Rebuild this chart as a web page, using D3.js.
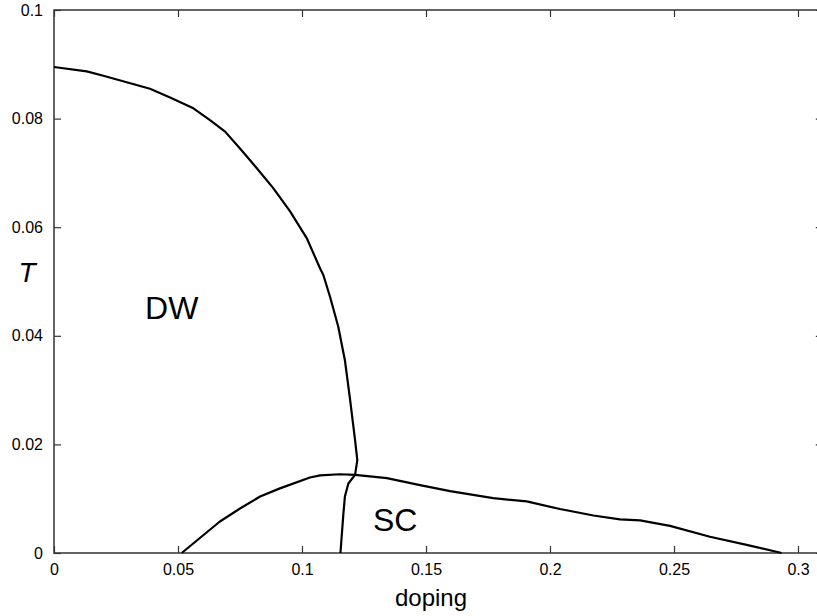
<!DOCTYPE html>
<html>
<head>
<meta charset="utf-8">
<script src="https://cdn.jsdelivr.net/npm/d3@7"></script>
<style>
  html, body { margin: 0; padding: 0; background: #fff; }
  svg { display: block; font-family: "Liberation Sans", Arial, sans-serif; }
</style>
</head>
<body>
<svg id="chart" width="817" height="616"></svg>
<script>
// Phase boundary of the density-wave (DW) state: doping vs T
const dwDoping = [0, 0.0132, 0.0199, 0.0293, 0.0387, 0.0468, 0.0562, 0.0629, 0.0690, 0.0750,
  0.0817, 0.0884, 0.0952, 0.1019, 0.1073, 0.1086, 0.1113, 0.1146, 0.1173, 0.1194,
  0.1214, 0.1223, 0.1214, 0.1187, 0.1173, 0.1167, 0.1155];
const dwT = [0.0895, 0.0887, 0.0879, 0.0867, 0.0855, 0.0839, 0.0819, 0.0797, 0.0776, 0.0745,
  0.0709, 0.0672, 0.0629, 0.0580, 0.0524, 0.0512, 0.0472, 0.0417, 0.0355, 0.0282,
  0.0208, 0.0171, 0.0144, 0.0128, 0.0104, 0.0073, 0];

// Superconducting (SC) transition line: doping vs T
const scDoping = [0.0515, 0.0669, 0.0750, 0.0831, 0.0911, 0.1032, 0.1073, 0.1153, 0.1214, 0.1274,
  0.1342, 0.1476, 0.1597, 0.1771, 0.1906, 0.2040, 0.2175, 0.2282, 0.2363, 0.2484,
  0.2645, 0.2793, 0.2934];
const scT = [0, 0.0058, 0.0082, 0.0104, 0.0119, 0.0139, 0.0143, 0.0145, 0.0144, 0.0141,
  0.0138, 0.0125, 0.0114, 0.0101, 0.0095, 0.0081, 0.0069, 0.0062, 0.0060, 0.0050,
  0.0030, 0.0015, 0];

const xTicks = [0, 0.05, 0.1, 0.15, 0.2, 0.25, 0.3];
const xTickLabels = ["0", "0.05", "0.1", "0.15", "0.2", "0.25", "0.3"];
const yTicks = [0, 0.02, 0.04, 0.06, 0.08, 0.1];
const yTickLabels = ["0", "0.02", "0.04", "0.06", "0.08", "0.1"];

const svg = d3.select("#chart");
const plotLeft = 54, plotTop = 10, plotBottom = 553;
const x = d3.scaleLinear().domain([0, 0.31]).range([plotLeft, plotLeft + 0.31 / 0.05 * 124]);
const y = d3.scaleLinear().domain([0, 0.1]).range([plotBottom, plotTop]);
const plotRight = x.range()[1];

const axisColor = "#333";

// frame
svg.append("rect")
  .attr("x", plotLeft).attr("y", plotTop)
  .attr("width", plotRight - plotLeft).attr("height", plotBottom - plotTop)
  .attr("fill", "none").attr("stroke", axisColor).attr("stroke-width", 1.5);

// bottom axis, ticks pointing inward
const xAxis = d3.axisBottom(x).tickValues(xTicks)
  .tickFormat((d, i) => xTickLabels[i]).tickSizeInner(-7).tickSizeOuter(0).tickPadding(11);
const gx = svg.append("g").attr("transform", `translate(0,${plotBottom})`).call(xAxis);
gx.select(".domain").remove();
gx.selectAll(".tick line").attr("stroke", axisColor).attr("stroke-width", 1.2);
gx.selectAll(".tick text").attr("font-size", 16).attr("fill", "#000")
  .attr("font-family", "Liberation Sans, Arial, sans-serif");

// top axis ticks
const gxt = svg.append("g").attr("transform", `translate(0,${plotTop})`)
  .call(d3.axisTop(x).tickValues(xTicks).tickFormat("").tickSizeInner(-7).tickSizeOuter(0));
gxt.select(".domain").remove();
gxt.selectAll(".tick line").attr("stroke", axisColor).attr("stroke-width", 1.2);

// left axis
const yAxis = d3.axisLeft(y).tickValues(yTicks)
  .tickFormat((d, i) => yTickLabels[i]).tickSizeInner(-7).tickSizeOuter(0).tickPadding(11);
const gy = svg.append("g").attr("transform", `translate(${plotLeft},0)`).call(yAxis);
gy.select(".domain").remove();
gy.selectAll(".tick line").attr("stroke", axisColor).attr("stroke-width", 1.2);
gy.selectAll(".tick text").attr("font-size", 16).attr("fill", "#000")
  .attr("font-family", "Liberation Sans, Arial, sans-serif");

// right axis ticks
const gyr = svg.append("g").attr("transform", `translate(${plotRight},0)`)
  .call(d3.axisRight(y).tickValues(yTicks).tickFormat("").tickSizeInner(-7).tickSizeOuter(0));
gyr.select(".domain").remove();
gyr.selectAll(".tick line").attr("stroke", axisColor).attr("stroke-width", 1.2);

// phase boundary curves
const line = d3.line().x(d => x(d[0])).y(d => y(d[1]));
svg.append("path")
  .datum(d3.zip(dwDoping, dwT))
  .attr("d", line).attr("fill", "none").attr("stroke", "#000")
  .attr("stroke-width", 2.2).attr("stroke-linejoin", "round");
svg.append("path")
  .datum(d3.zip(scDoping, scT))
  .attr("d", line).attr("fill", "none").attr("stroke", "#000")
  .attr("stroke-width", 2.2).attr("stroke-linejoin", "round");

// axis titles
svg.append("text").attr("x", 431).attr("y", 606)
  .attr("text-anchor", "middle").attr("font-size", 24).text("doping");
svg.append("text").attr("x", 27).attr("y", 282)
  .attr("text-anchor", "middle").attr("font-size", 28).attr("font-style", "italic").text("T");

// region labels
svg.append("text").attr("x", x(0.0367)).attr("y", y(0.0431))
  .attr("font-size", 32).text("DW");
svg.append("text").attr("x", x(0.1286)).attr("y", y(0.0040))
  .attr("font-size", 32).text("SC");
</script>
</body>
</html>
